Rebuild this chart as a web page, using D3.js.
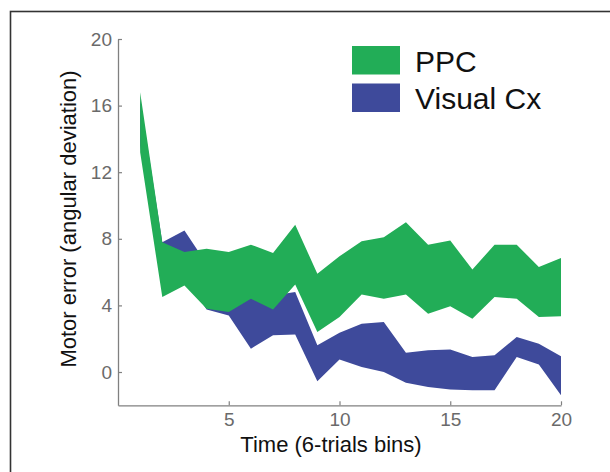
<!DOCTYPE html>
<html>
<head>
<meta charset="utf-8">
<script src="https://cdn.jsdelivr.net/npm/d3@7"></script>
<style>
  body { margin: 0; background: #fff; }
  svg { display: block; font-family: "Liberation Sans", Arial, sans-serif; }
</style>
</head>
<body>
<div id="chart"></div>
<script>
// time bins (6 trials each)
const bins = [1, 2, 3, 4, 5, 6, 7, 8, 9, 10, 11, 12, 13, 14, 15, 16, 17, 18, 19, 20];

// PPC band (lower / upper edge)
const ppcLow  = [13.2, 4.5, 5.2, 3.8, 3.6, 4.4, 3.75, 5.25, 2.4, 3.3, 4.65, 4.4, 4.65, 3.5, 3.95, 3.2, 4.5, 4.4, 3.3, 3.35];
const ppcHigh = [16.8, 7.8, 7.2, 7.4, 7.2, 7.65, 7.15, 8.85, 5.9, 6.95, 7.85, 8.1, 9.0, 7.65, 7.9, 6.15, 7.65, 7.65, 6.3, 6.85];

// Visual cortex band (lower / upper edge)
const visLow  = [13.6, 5.0, 5.8, 3.75, 3.4, 1.4, 2.2, 2.25, -0.55, 0.75, 0.3, 0.0, -0.65, -0.9, -1.05, -1.1, -1.1, 0.9, 0.45, -1.4];
const visHigh = [16.4, 7.8, 8.5, 6.5, 5.5, 5.0, 4.6, 4.8, 1.6, 2.35, 2.9, 3.0, 1.15, 1.3, 1.35, 0.9, 1.0, 2.1, 1.7, 0.95];

const xTicks = [5, 10, 15, 20];
const yTicks = [0, 4, 8, 12, 16, 20];

const series = [
  { name: 'Visual Cx', low: visLow, high: visHigh, color: '#3e4a9b' },
  { name: 'PPC', low: ppcLow, high: ppcHigh, color: '#22ad57' }
];

const w = 610, h = 472;

const svg = d3.select('#chart')
  .append('svg')
  .attr('width', w)
  .attr('height', h);

// outer frame of the figure panel
svg.append('rect')
  .attr('x', 10.5)
  .attr('y', 11.5)
  .attr('width', w + 20)
  .attr('height', h + 20)
  .attr('fill', 'none')
  .attr('stroke', '#333')
  .attr('stroke-width', 1.6);

const x = d3.scaleLinear().domain([0, 20]).range([118, 561]);
const y = d3.scaleLinear().domain([-2, 20]).range([405.3, 39]);

// bands, visual cortex under PPC
series.forEach(s => {
  const area = d3.area()
    .x((d, i) => x(bins[i]))
    .y0((d, i) => y(s.low[i]))
    .y1((d, i) => y(s.high[i]));
  svg.append('path')
    .datum(bins)
    .attr('d', area)
    .attr('fill', s.color);
});

const xAxis = d3.axisBottom(x)
  .tickValues(xTicks)
  .tickSizeInner(-4)
  .tickSizeOuter(0)
  .tickPadding(7);

const yAxis = d3.axisLeft(y)
  .tickValues(yTicks)
  .tickSizeInner(-4)
  .tickSizeOuter(0)
  .tickPadding(6);

const gx = svg.append('g')
  .attr('transform', `translate(0, ${y(-2)})`)
  .call(xAxis);

const gy = svg.append('g')
  .attr('transform', `translate(${x(0)}, 0)`)
  .call(yAxis);

[gx, gy].forEach(g => {
  g.select('.domain').attr('stroke', '#808080').attr('stroke-width', 1.3);
  g.selectAll('.tick line').attr('stroke', '#808080').attr('stroke-width', 1.2);
  g.selectAll('.tick text')
    .attr('fill', '#6a6a6a')
    .style('font-size', '19px')
    .style('font-family', '"Liberation Sans", Arial, sans-serif');
});

// axis titles
svg.append('text')
  .attr('x', 331)
  .attr('y', 452)
  .attr('text-anchor', 'middle')
  .attr('fill', '#111')
  .style('font-size', '22px')
  .text('Time (6-trials bins)');

svg.append('text')
  .attr('transform', 'translate(76, 219) rotate(-90)')
  .attr('text-anchor', 'middle')
  .attr('fill', '#111')
  .style('font-size', '22px')
  .text('Motor error (angular deviation)');

// legend
const legend = svg.append('g').attr('transform', 'translate(352, 46)');
series.slice().reverse().forEach((s, i) => {
  legend.append('rect')
    .attr('x', 0)
    .attr('y', i * 37.5)
    .attr('width', 48)
    .attr('height', 28.5)
    .attr('fill', s.color);
  legend.append('text')
    .attr('x', 63)
    .attr('y', i * 37.5 + 25.5)
    .attr('fill', '#111')
    .style('font-size', '30px')
    .text(s.name);
});
</script>
</body>
</html>
